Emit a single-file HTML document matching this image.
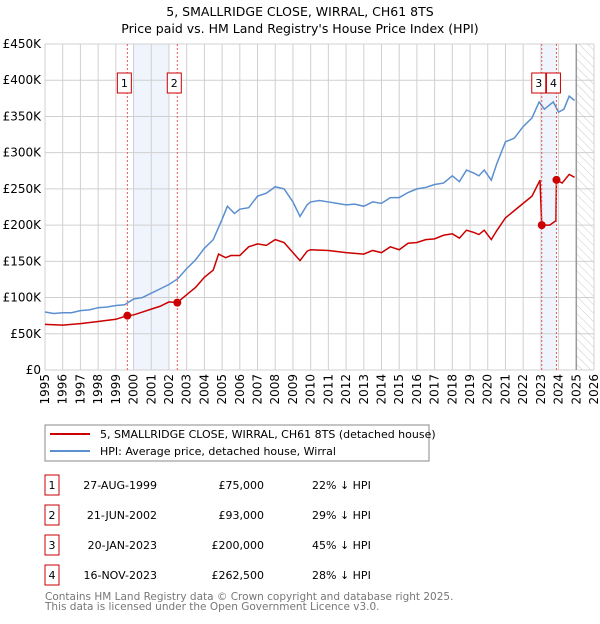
<!DOCTYPE html>
<html><head><meta charset="utf-8"><style>
body{margin:0;background:#fff;font-family:"DejaVu Sans","Liberation Sans",sans-serif;}
svg text{font-family:"DejaVu Sans","Liberation Sans",sans-serif;}
</style></head><body>
<svg id="c" width="600" height="620" xmlns="http://www.w3.org/2000/svg">
<defs><pattern id="hatch" width="6" height="6" patternUnits="userSpaceOnUse" patternTransform="rotate(-45)"><line x1="0" y1="0" x2="0" y2="6" stroke="#ccc" stroke-width="1"/></pattern></defs>
<text x="300" y="16" text-anchor="middle" font-size="12.5" fill="#000">5, SMALLRIDGE CLOSE, WIRRAL, CH61 8TS</text>
<text x="300" y="33" text-anchor="middle" font-size="12.5" fill="#000">Price paid vs. HM Land Registry's House Price Index (HPI)</text>
<g id="shade"></g><g id="grid"></g><g id="series"></g><g id="marks"></g><g id="axes"></g>
<rect x="45" y="425" width="384" height="36" fill="#fff" stroke="#888"/>
<line x1="50" y1="434" x2="90" y2="434" stroke="#cc0000" stroke-width="2"/>
<text x="100" y="438" font-size="11">5, SMALLRIDGE CLOSE, WIRRAL, CH61 8TS (detached house)</text>
<line x1="50" y1="451" x2="90" y2="451" stroke="#5b8fd0" stroke-width="2"/>
<text x="100" y="455" font-size="11">HPI: Average price, detached house, Wirral</text>
<g id="table" font-size="11"></g>
<text x="45" y="600" font-size="10.5" fill="#777">Contains HM Land Registry data © Crown copyright and database right 2025.</text>
<text x="45" y="610" font-size="10.5" fill="#777">This data is licensed under the Open Government Licence v3.0.</text>
</svg>
<script>
const NS="http://www.w3.org/2000/svg";
const hpiYears=[1995,1995.5,1996,1996.5,1997,1997.5,1998,1998.5,1999,1999.5,2000,2000.5,2001,2001.5,2002,2002.5,2003,2003.5,2004,2004.5,2005,2005.3,2005.7,2006,2006.5,2007,2007.5,2008,2008.5,2009,2009.4,2009.8,2010,2010.5,2011,2011.5,2012,2012.5,2013,2013.5,2014,2014.5,2015,2015.5,2016,2016.5,2017,2017.5,2018,2018.4,2018.8,2019.2,2019.5,2019.8,2020.2,2020.5,2021,2021.5,2022,2022.5,2022.9,2023.2,2023.7,2024,2024.3,2024.6,2024.9];
const hpiValues=[80,78,79,79,82,83,86,87,89,90,98,100,106,112,118,126,140,152,168,180,208,226,216,222,224,240,244,253,250,232,212,228,232,234,232,230,228,229,226,232,230,238,238,245,250,252,256,258,268,260,276,272,268,276,262,284,315,320,336,348,370,360,370,356,360,378,372];
const priceYears=[1995,1996,1997,1998,1999,1999.65,2000,2000.5,2001,2001.5,2002,2002.47,2003,2003.5,2004,2004.5,2004.8,2005.2,2005.5,2006,2006.5,2007,2007.5,2008,2008.5,2009,2009.4,2009.8,2010,2011,2012,2013,2013.5,2014,2014.5,2015,2015.5,2016,2016.5,2017,2017.5,2018,2018.4,2018.8,2019.2,2019.5,2019.8,2020.2,2020.5,2021,2021.5,2022,2022.5,2022.95,2023.05,2023.5,2023.85,2023.88,2024.2,2024.6,2024.9];
const priceValues=[63,62,64,67,70,75,76,80,84,88,94,93,104,114,128,138,160,155,158,158,170,174,172,180,176,162,151,164,166,165,162,160,165,162,170,166,175,176,180,181,186,188,182,193,190,187,193,180,192,210,220,230,240,262,200,200,206,262.5,258,270,266];
const saleLabels=["1","2","3","4"];
const saleYears=[1999.65,2002.47,2023.05,2023.88];
const saleValues=[75,93,200,262.5];
const saleDates=["27-AUG-1999","21-JUN-2002","20-JAN-2023","16-NOV-2023"];
const salePrices=["£75,000","£93,000","£200,000","£262,500"];
const saleDiffs=["22% ↓ HPI","29% ↓ HPI","45% ↓ HPI","28% ↓ HPI"];
const yTicks=[0,50,100,150,200,250,300,350,400,450];
const yTickLabels=["£0","£50K","£100K","£150K","£200K","£250K","£300K","£350K","£400K","£450K"];
const xTicks=[1995,1996,1997,1998,1999,2000,2001,2002,2003,2004,2005,2006,2007,2008,2009,2010,2011,2012,2013,2014,2015,2016,2017,2018,2019,2020,2021,2022,2023,2024,2025,2026];
const X0=45,X1=594,Y0=370,Y1=44;
const x=v=>X0+(v-1995)/31*(X1-X0);
const y=v=>Y0-v/450*(Y0-Y1);
function el(t,a,p){const e=document.createElementNS(NS,t);for(const k in a)e.setAttribute(k,a[k]);document.getElementById(p).appendChild(e);return e;}
yTicks.forEach((t,i)=>{
 const l=el("line",{x1:X0,x2:X1,y1:y(t),y2:y(t),stroke:"#d0d0d0"},"grid");
 
 
 const tx=el("text",{x:X0-4,y:y(t)+4,"text-anchor":"end","font-size":"12"},"axes");
 tx.textContent=yTickLabels[i];
 
 
});
xTicks.forEach(t=>{
 const l=el("line",{x1:x(t),x2:x(t),y1:Y1,y2:Y0,stroke:"#d0d0d0"},"grid");
 
 
 const tx=el("text",{x:0,y:0,"text-anchor":"end","font-size":"12",transform:`translate(${x(t)+4},${Y0+4}) rotate(-90)`},"axes");
 tx.textContent=t;
 
 
});
const s1=el("rect",{x:x(2000),y:Y1,width:x(2002)-x(2000),height:Y0-Y1,fill:"#f0f4fc"},"shade");


const s2=el("rect",{x:x(saleYears[2]),y:Y1,width:x(saleYears[3])-x(saleYears[2]),height:Y0-Y1,fill:"#f0f4fc"},"shade");


const h=el("rect",{x:x(2025),y:Y1,width:X1-x(2025),height:Y0-Y1,fill:"url(#hatch)"},"series");


const fl=el("line",{x1:x(2025),x2:x(2025),y1:Y1,y2:Y0,stroke:"#999","stroke-width":1.5},"series");


const hp=el("polyline",{points:hpiYears.map((t,i)=>x(t)+","+y(hpiValues[i])).join(" "),fill:"none",stroke:"#5b8fd0","stroke-width":1.5},"series");


const pp=el("polyline",{points:priceYears.map((t,i)=>x(t)+","+y(priceValues[i])).join(" "),fill:"none",stroke:"#cc0000","stroke-width":1.5},"series");


saleYears.forEach((t,i)=>{
 const vl=el("line",{x1:x(t),x2:x(t),y1:Y1,y2:Y0,stroke:"#e55","stroke-dasharray":"2,2"},"marks");
 
 
 const d=el("circle",{cx:x(t),cy:y(saleValues[i]),r:4,fill:"#cc0000"},"marks");
 
 
 const bx=el("rect",{x:x(t)-10,y:73,width:14,height:20,fill:"#fff",stroke:"#cc0000"},"marks");
 
 
 const bt=el("text",{x:x(t)-3,y:87,"text-anchor":"middle","font-size":"11"},"marks");
 bt.textContent=saleLabels[i];
 
 
});
saleLabels.forEach((lab,i)=>{
 const cy=483+i*30;
 const r=el("rect",{x:45,y:cy-8,width:14,height:20,fill:"#fff",stroke:"#cc0000"},"table");
 
 
 const cells=[[52,lab,"middle"],[157,saleDates[i],"end"],[264,salePrices[i],"end"],[312,saleDiffs[i],"start"]];
 cells.forEach(c=>{
  const tx=el("text",{x:c[0],y:cy+6,"text-anchor":c[2]},"table");
  tx.textContent=c[1];
  
  
 });
});
</script>
</body></html>
